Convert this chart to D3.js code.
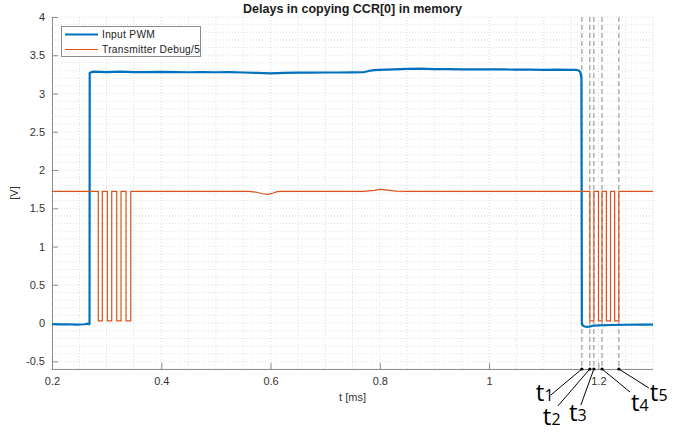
<!DOCTYPE html>
<html>
<head>
<meta charset="utf-8">
<script src="https://cdn.jsdelivr.net/npm/d3@7"></script>
<style>
  html, body { margin: 0; padding: 0; background: #fff; }
  svg { display: block; font-family: "Liberation Sans", Arial, Helvetica, sans-serif; }
</style>
</head>
<body>
<svg id="chart" width="694" height="432"></svg>
<script>
// ---------------- DATA ----------------
const title = "Delays in copying CCR[0] in memory";
const xLabel = "t [ms]";
const yLabel = "[V]";
const seriesNames = ["Input PWM", "Transmitter Debug/5"];
const seriesColors = ["#0072BD", "#D95319"];

const xTicks = [0.2, 0.4, 0.6, 0.8, 1.0, 1.2];
const yTicks = [-0.5, 0, 0.5, 1, 1.5, 2, 2.5, 3, 3.5, 4];

// Input PWM (time in ms, volts)
const pwmT = [0.2, 0.215, 0.23, 0.245, 0.26, 0.265, 0.268, 0.2687,
  0.269, 0.275, 0.30, 0.325, 0.35, 0.375, 0.40, 0.425, 0.45, 0.475, 0.50, 0.525, 0.55, 0.575,
  0.60, 0.625, 0.65, 0.675, 0.70, 0.725, 0.75, 0.77, 0.78, 0.79, 0.80, 0.825, 0.85, 0.875,
  0.90, 0.925, 0.95, 0.975, 1.0, 1.025, 1.05, 1.075, 1.10, 1.125, 1.15, 1.16, 1.164, 1.167,
  1.169, 1.1698, 1.171, 1.175, 1.18, 1.185, 1.19, 1.20, 1.225, 1.25, 1.275, 1.30];
const pwmV = [-0.015, -0.018, -0.015, -0.02, -0.015, -0.008, -0.015, -0.01,
  3.27, 3.285, 3.28, 3.285, 3.28, 3.28, 3.282, 3.28, 3.278, 3.28, 3.278, 3.28, 3.275, 3.27,
  3.262, 3.27, 3.272, 3.272, 3.275, 3.275, 3.276, 3.278, 3.295, 3.305, 3.308, 3.315, 3.322, 3.325,
  3.32, 3.318, 3.316, 3.315, 3.315, 3.315, 3.313, 3.312, 3.31, 3.312, 3.31, 3.308, 3.30, 3.28,
  3.2, 0.0, -0.03, -0.045, -0.05, -0.045, -0.035, -0.03, -0.025, -0.022, -0.02, -0.02];

// Transmitter Debug/5
const dbgT = [0.2, 0.2848, 0.2848, 0.2921, 0.2921, 0.3013, 0.3013, 0.3093, 0.3093,
  0.3185, 0.3185, 0.3264, 0.3264, 0.3355, 0.3355, 0.3441, 0.3441,
  0.56, 0.575, 0.585, 0.595, 0.605, 0.612, 0.62, 0.77, 0.79, 0.80, 0.81, 0.83, 0.85,
  1.1844, 1.1844, 1.1918, 1.1918, 1.2002, 1.2002, 1.2067, 1.2067,
  1.2147, 1.2147, 1.2223, 1.2223, 1.2298, 1.2298, 1.2375, 1.2375, 1.30];
const dbgV = [1.72, 1.72, 0.03, 0.03, 1.72, 1.72, 0.03, 0.03, 1.72,
  1.72, 0.03, 0.03, 1.72, 1.72, 0.03, 0.03, 1.72,
  1.72, 1.71, 1.69, 1.683, 1.70, 1.718, 1.72, 1.72, 1.735, 1.748, 1.74, 1.725, 1.72,
  1.72, 0.03, 0.03, 1.72, 1.72, 0.03, 0.03, 1.72,
  1.72, 0.03, 0.03, 1.72, 1.72, 0.03, 0.03, 1.72, 1.72];

// Event markers t1..t5 (ms)
const markerNames = ["1", "2", "3", "4", "5"];
const markerT = [1.1698, 1.1844, 1.1918, 1.2067, 1.2375];

// ---------------- LAYOUT ----------------
const svg = d3.select("#chart");
const L = 52, R = 653, T = 17, B = 369;
const x = d3.scaleLinear().domain([0.2, 1.3]).range([L, R]);
const y = d3.scaleLinear().domain([-0.6, 4]).range([B, T]);
const fmt = d => String(+(+d).toFixed(2));

// grid
const grid = svg.append("g");
const xMinor = d3.range(0, 23).map(i => +(0.2 + i * 0.05).toFixed(2));
const yMinor = d3.range(0, 47).map(i => +(-0.6 + i * 0.1).toFixed(2));
grid.selectAll("line.gx").data(xMinor).join("line")
  .attr("x1", d => x(d)).attr("x2", d => x(d)).attr("y1", T).attr("y2", B)
  .attr("stroke", "#dedede").attr("stroke-width", 1).attr("stroke-dasharray", "1,2");
grid.selectAll("line.gy").data(yMinor).join("line")
  .attr("y1", d => y(d)).attr("y2", d => y(d)).attr("x1", L).attr("x2", R)
  .attr("stroke", "#dedede").attr("stroke-width", 1).attr("stroke-dasharray", "1,2");

// axes
const xAxis = d3.axisBottom(x).tickValues(xTicks).tickFormat(fmt).tickSize(-6).tickPadding(8);
const yAxis = d3.axisLeft(y).tickValues(yTicks).tickFormat(fmt).tickSize(-6).tickPadding(7);
const gx = svg.append("g").attr("transform", `translate(0,${B})`).call(xAxis);
const gy = svg.append("g").attr("transform", `translate(${L},0)`).call(yAxis);
[gx, gy].forEach(g => {
  g.select(".domain").attr("stroke", "#8c8c8c");
  g.selectAll(".tick line").attr("stroke", "#8c8c8c");
  g.selectAll(".tick text").attr("fill", "#333").style("font-size", "11px")
    .style("font-family", "'Liberation Sans', Arial, sans-serif");
});
gx.select(".domain").attr("d", `M${L},0.5H${R}`);
gy.select(".domain").attr("d", `M0.5,${B}V${T}`);

// dashed marker lines
svg.append("g").selectAll("line").data(markerT).join("line")
  .attr("x1", d => x(d)).attr("x2", d => x(d)).attr("y1", T).attr("y2", B)
  .attr("stroke", "#8a8a8a").attr("stroke-width", 1).attr("stroke-dasharray", "5,3");

// series
const line = d3.line().x(d => x(d[0])).y(d => y(d[1]));
svg.append("path").datum(pwmT.map((t, i) => [t, pwmV[i]]))
  .attr("d", line).attr("fill", "none").attr("stroke", seriesColors[0])
  .attr("stroke-width", 2.2).attr("stroke-linejoin", "round");
svg.append("path").datum(dbgT.map((t, i) => [t, dbgV[i]]))
  .attr("d", line).attr("fill", "none").attr("stroke", seriesColors[1])
  .attr("stroke-width", 1.2);

// title and labels
svg.append("text").attr("x", (L + R) / 2).attr("y", 13).attr("text-anchor", "middle")
  .attr("font-weight", "bold").attr("font-size", "12.5px").attr("fill", "#1a1a1a").text(title);
svg.append("text").attr("x", (L + R) / 2).attr("y", 401).attr("text-anchor", "middle")
  .attr("font-size", "11px").attr("fill", "#333").text(xLabel);
svg.append("text").attr("transform", `translate(18,${(T + B) / 2}) rotate(-90)`)
  .attr("text-anchor", "middle").attr("font-size", "11px").attr("fill", "#333").text(yLabel);

// legend
const lg = svg.append("g");
lg.append("rect").attr("x", 61.5).attr("y", 26.5).attr("width", 139).attr("height", 30)
  .attr("fill", "#fff").attr("stroke", "#8c8c8c").attr("stroke-width", 1);
seriesNames.forEach((n, i) => {
  const yy = 34.5 + i * 15;
  lg.append("line").attr("x1", 65).attr("x2", 98).attr("y1", yy).attr("y2", yy)
    .attr("stroke", seriesColors[i]).attr("stroke-width", i === 0 ? 2.2 : 1.2);
  lg.append("text").attr("x", 102).attr("y", yy + 3.5).attr("font-size", "10.2px")
    .attr("letter-spacing", "0.3px").attr("fill", "#222").text(n);
});

// t-annotations (label offsets relative to marker foot, in px)
const labOff = [[-31, 26], [-32, 37], [-13, 36], [28, 23], [30, 19]];
const txtOff = [[-46, 32], [-47, 56], [-25, 52], [29, 42], [31, 32]];
const ann = svg.append("g");
markerT.forEach((t, i) => {
  const x0 = x(t), y0 = B;
  ann.append("line").attr("x1", x0).attr("y1", y0)
    .attr("x2", x0 + labOff[i][0]).attr("y2", y0 + labOff[i][1])
    .attr("stroke", "#000").attr("stroke-width", 1);
  ann.append("circle").attr("cx", x0).attr("cy", y0).attr("r", 1.6).attr("fill", "#000");
  const tx = ann.append("text").attr("x", x0 + txtOff[i][0]).attr("y", y0 + txtOff[i][1])
    .style("font-family", "'Open Sans', sans-serif").attr("fill", "#000");
  tx.append("tspan").attr("font-size", "24px").text("t");
  tx.append("tspan").attr("font-size", "16px").attr("dy", 0).text(markerNames[i]);
});
</script>
</body>
</html>
